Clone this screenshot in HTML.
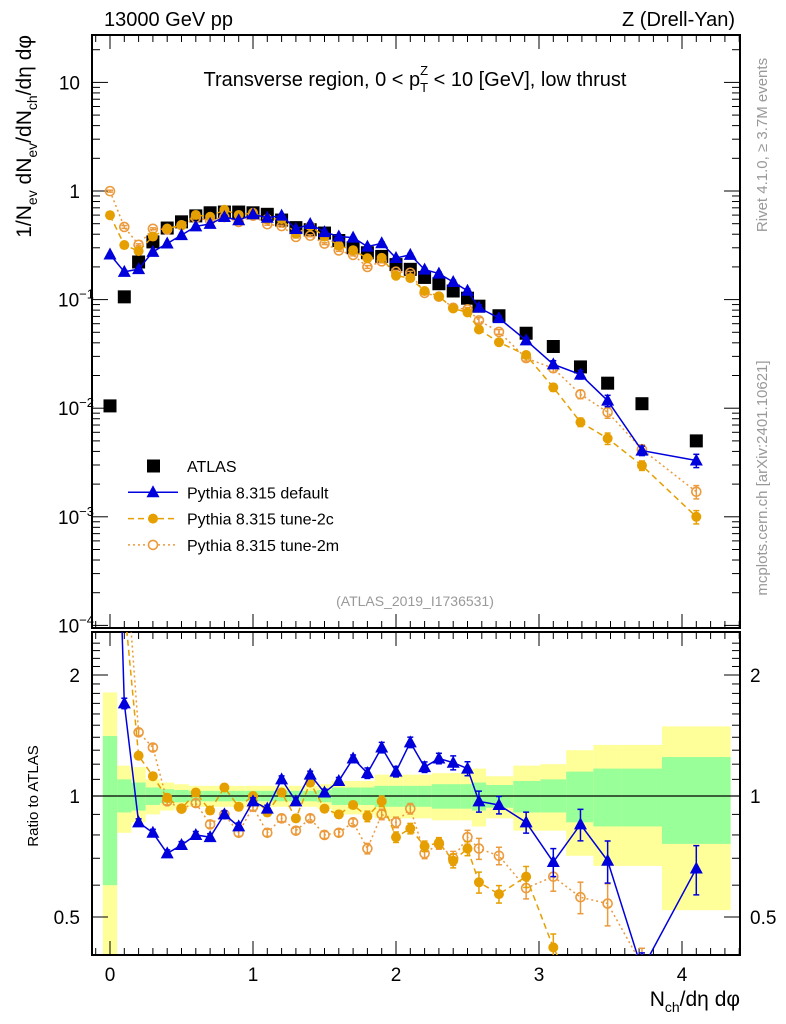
<!DOCTYPE html>
<html><head><meta charset="utf-8"><style>
html,body{margin:0;padding:0;background:#fff;width:786px;height:1024px;overflow:hidden}
svg{display:block;font-family:"Liberation Sans",sans-serif}
</style></head><body>
<svg id="c" width="786" height="1024" xmlns="http://www.w3.org/2000/svg"></svg>
<script>
const xs=[0,0.1,0.2,0.3,0.4,0.5,0.6,0.7,0.8,0.9,1.0,1.1,1.2,1.3,1.4,1.5,1.6,1.7,1.8,1.9,2.0,2.1,2.2,2.3,2.4,2.5,2.58,2.72,2.91,3.10,3.29,3.48,3.72,4.10];
const binLo=[-0.05,0.05,0.15,0.25,0.35,0.45,0.55,0.65,0.75,0.85,0.95,1.05,1.15,1.25,1.35,1.45,1.55,1.65,1.75,1.85,1.95,2.05,2.15,2.25,2.35,2.45,2.53,2.63,2.82,3.01,3.19,3.38,3.58,3.86];
const binHi=[0.05,0.15,0.25,0.35,0.45,0.55,0.65,0.75,0.85,0.95,1.05,1.15,1.25,1.35,1.45,1.55,1.65,1.75,1.85,1.95,2.05,2.15,2.25,2.35,2.45,2.53,2.63,2.82,3.01,3.19,3.38,3.58,3.86,4.34];
const atlas=[0.0105,0.106,0.222,0.34,0.456,0.52,0.59,0.63,0.64,0.64,0.63,0.61,0.54,0.46,0.44,0.41,0.35,0.30,0.27,0.25,0.21,0.19,0.16,0.14,0.12,0.103,0.087,0.071,0.049,0.037,0.024,0.017,0.011,0.005];
const rDefault=[24.8,1.70,0.86,0.81,0.72,0.755,0.80,0.79,0.90,0.84,0.97,0.93,1.10,0.97,1.13,1.02,1.09,1.24,1.14,1.32,1.15,1.36,1.18,1.24,1.21,1.17,0.97,0.95,0.86,0.685,0.85,0.69,0.37,0.66];
const r2c=[57,3.0,1.26,1.12,0.99,0.93,1.02,0.92,1.05,0.94,1.0,0.91,1.02,0.88,1.08,0.93,0.90,0.95,0.89,0.97,0.79,0.83,0.75,0.765,0.69,0.74,0.61,0.57,0.63,0.42,0.31,0.31,0.27,0.2];
const r2m=[95,4.4,1.44,1.32,0.97,0.93,0.96,0.85,0.90,0.81,0.94,0.81,0.88,0.82,0.88,0.80,0.81,0.86,0.74,0.90,0.86,0.93,0.72,0.76,0.70,0.79,0.74,0.71,0.59,0.63,0.56,0.54,0.38,0.34];
const errRel=[0.02,0.03,0.02,0.02,0.02,0.02,0.02,0.02,0.02,0.02,0.02,0.02,0.02,0.02,0.02,0.02,0.02,0.02,0.03,0.03,0.03,0.03,0.03,0.03,0.04,0.04,0.06,0.05,0.06,0.08,0.09,0.12,0.10,0.14];
const yelHi=[1.81,1.19,1.18,1.10,1.08,1.07,1.06,1.06,1.06,1.06,1.06,1.06,1.06,1.06,1.06,1.07,1.09,1.09,1.09,1.13,1.13,1.13,1.13,1.14,1.14,1.14,1.17,1.12,1.19,1.20,1.30,1.34,1.34,1.49];
const yelLo=[0.35,0.81,0.86,0.90,0.92,0.93,0.94,0.94,0.94,0.94,0.94,0.94,0.94,0.94,0.94,0.93,0.90,0.90,0.90,0.88,0.88,0.88,0.88,0.87,0.87,0.87,0.84,0.88,0.82,0.82,0.71,0.67,0.67,0.52];
const grnHi=[1.41,1.10,1.08,1.05,1.04,1.035,1.03,1.03,1.03,1.03,1.03,1.03,1.03,1.03,1.03,1.035,1.05,1.05,1.05,1.06,1.06,1.06,1.06,1.07,1.07,1.07,1.08,1.065,1.09,1.10,1.15,1.17,1.17,1.25];
const grnLo=[0.60,0.91,0.92,0.95,0.96,0.965,0.97,0.97,0.97,0.97,0.97,0.97,0.97,0.97,0.97,0.965,0.95,0.95,0.95,0.94,0.94,0.94,0.94,0.93,0.93,0.93,0.92,0.935,0.91,0.91,0.86,0.84,0.84,0.76];
const xTicks=[0,1,2,3,4];

const NS="http://www.w3.org/2000/svg";
const svg=document.getElementById('c');
function el(t,a,p){const e=document.createElementNS(NS,t);for(const k in a)e.setAttribute(k,a[k]);(p||svg).appendChild(e);return e;}
const L=92,R=740,MT=35,MB=628,RT=632,RB=955;
const X=v=>110+v*143;
const YM=v=>191-Math.log10(v)*108.6;
const YR=v=>796-Math.log2(v)*121;

const defs=el('defs',{});
const c1=el('clipPath',{id:'cm'},defs);el('rect',{x:L,y:MT,width:R-L,height:MB-MT},c1);
const c2=el('clipPath',{id:'cr'},defs);el('rect',{x:L,y:RT,width:R-L,height:RB-RT},c2);

const gb=el('g',{'clip-path':'url(#cr)'});

for(let i=0;i<xs.length;i++){
 const a=X(binLo[i]),w=X(binHi[i])-a;
 const r1=el('rect',{x:a,y:YR(yelHi[i]),width:w,height:YR(yelLo[i])-YR(yelHi[i]),fill:'#ffff99'},gb);
 
 const r2=el('rect',{x:a,y:YR(grnHi[i]),width:w,height:YR(grnLo[i])-YR(grnHi[i]),fill:'#99ff99'},gb);
 
}
el('line',{x1:L,x2:R,y1:YR(1),y2:YR(1),stroke:'#000','stroke-width':1.2});

const f1=el('rect',{x:L,y:MT,width:R-L,height:MB-MT,fill:'none',stroke:'#000','stroke-width':2});

const f2=el('rect',{x:L,y:RT,width:R-L,height:RB-RT,fill:'none',stroke:'#000','stroke-width':2});


for(let v=-0.1;v<=4.45;v+=0.1){
 const vv=Math.round(v*10)/10, maj=Math.abs(vv-Math.round(vv))<1e-6, h=maj?14:7, x=X(vv);
 if(x<L||x>R)continue;
 [[MB,-1],[MT,1],[RB,-1],[RT,1]].forEach(([y,d])=>el('line',{x1:x,x2:x,y1:y,y2:y+d*h,stroke:'#000','stroke-width':1}));
}
xTicks.forEach(v=>{const t=el('text',{x:X(v),y:981,'font-size':19,'text-anchor':'middle'});t.textContent=v;
});
for(let e=-4;e<=1;e++){for(let m=1;m<10;m++){const v=m*Math.pow(10,e),y=YM(v);if(y<MT||y>MB)continue;const h=m==1?16:8;
 el('line',{x1:L,x2:L+h,y1:y,y2:y,stroke:'#000'});el('line',{x1:R,x2:R-h,y1:y,y2:y,stroke:'#000'});}}
const ylab=[[10,'10'],[1,'1'],[0.1,'10<tspan dy="-8" font-size="13">−1</tspan>'],[0.01,'10<tspan dy="-8" font-size="13">−2</tspan>'],[0.001,'10<tspan dy="-8" font-size="13">−3</tspan>'],[0.0001,'10<tspan dy="-8" font-size="13">−4</tspan>']];
ylab.forEach(([v,s])=>{const t=el('text',{x:v>=1?80:58,y:YM(v)+7,'font-size':19,'text-anchor':v>=1?'end':'start'});t.innerHTML=s;
});
for(let v=0.4;v<=2.5;v+=0.1){const vv=Math.round(v*10)/10,y=YR(vv);if(y<RT||y>RB)continue;const maj=[0.5,1,2].includes(vv),h=maj?16:8;
 el('line',{x1:L,x2:L+h,y1:y,y2:y,stroke:'#000'});el('line',{x1:R,x2:R-h,y1:y,y2:y,stroke:'#000'});}
[[2,'2'],[1,'1'],[0.5,'0.5']].forEach(([v,s])=>{
 const a=el('text',{x:80,y:YR(v)+7,'font-size':19,'text-anchor':'end'});a.textContent=s;
 const b=el('text',{x:750,y:YR(v)+7,'font-size':19});b.textContent=s;});

const OR='#e69f00';
function series(g,vals,Y,style,mk,errs){
 const pts=xs.map((x,i)=>[X(x),Y(vals[i])]);
 el('polyline',{points:pts.map(p=>p.join(',')).join(' '),fill:'none',stroke:style.c,'stroke-width':style.w,'stroke-dasharray':style.d||'none'},g);
 pts.forEach((p,i)=>{
  if(errs){const hi=Y(vals[i]*(1+errs[i])),lo=Y(vals[i]*(1-errs[i]));
   el('line',{x1:p[0],x2:p[0],y1:hi,y2:lo,stroke:style.c,'stroke-width':1.5},g);
   el('line',{x1:p[0]-3,x2:p[0]+3,y1:hi,y2:hi,stroke:style.c,'stroke-width':1.5},g);
   el('line',{x1:p[0]-3,x2:p[0]+3,y1:lo,y2:lo,stroke:style.c,'stroke-width':1.5},g);}
  let m;
  if(mk=='tri')m=el('polygon',{points:`${p[0]},${p[1]-7} ${p[0]-6.5},${p[1]+5} ${p[0]+6.5},${p[1]+5}`,fill:style.c},g);
  else if(mk=='dot')m=el('circle',{cx:p[0],cy:p[1],r:5,fill:style.c},g);
  else m=el('circle',{cx:p[0],cy:p[1],r:4.5,fill:'none',stroke:style.c,'stroke-width':1.6},g);
  
 });
}
const main=el('g',{'clip-path':'url(#cm)'});
const ratio=el('g',{'clip-path':'url(#cr)'});
const mc=r=>atlas.map((a,i)=>a*r[i]);
const ga=el('g',{},main);
xs.forEach((x,i)=>{const r=el('rect',{x:X(x)-6.5,y:YM(atlas[i])-6.5,width:13,height:13,fill:'#000'},ga);
 });
const g2m=el('g',{},main);
series(g2m,mc(r2m),YM,{c:'#eb9a3c',w:1.5,d:'2,3'},'open',errRel);
const g2c=el('g',{},main);
series(g2c,mc(r2c),YM,{c:OR,w:1.5,d:'6,4'},'dot',errRel);
const gd=el('g',{},main);
series(gd,mc(rDefault),YM,{c:'#0000dd',w:1.5},'tri',errRel);
const rg2m=el('g',{},ratio);
series(rg2m,r2m,YR,{c:'#eb9a3c',w:1.5,d:'2,3'},'open',errRel);
const rg2c=el('g',{},ratio);
series(rg2c,r2c,YR,{c:OR,w:1.5,d:'6,4'},'dot',errRel);
const rgd=el('g',{},ratio);
series(rgd,rDefault,YR,{c:'#0000dd',w:1.5},'tri',errRel);

function txt(x,y,s,o){const t=el('text',Object.assign({x,y},o));t.innerHTML=s;return t;}
let t;
t=txt(104,26,'13000 GeV pp',{'font-size':20});
t=txt(735,26,'Z (Drell-Yan)',{'font-size':20,'text-anchor':'end'});
t=txt(415,86,'Transverse region, 0 &lt; p<tspan dy="6" font-size="13">T</tspan><tspan dx="-8" dy="-17" font-size="13">Z</tspan><tspan dy="11"> &lt; 10 [GeV], low thrust</tspan>',{'font-size':20,'text-anchor':'middle'});

t=txt(415,606,'(ATLAS_2019_I1736531)',{'font-size':14,'text-anchor':'middle',fill:'#999'});
t=txt(0,0,'1/N<tspan dy="6" font-size="14">ev</tspan><tspan dy="-6"> dN</tspan><tspan dy="6" font-size="14">ev</tspan><tspan dy="-6">/dN</tspan><tspan dy="6" font-size="14">ch</tspan><tspan dy="-6">/dη dφ</tspan>',{'font-size':21,'text-anchor':'end',transform:'translate(31,35) rotate(-90)'});

t=txt(0,0,'Ratio to ATLAS',{'font-size':15,'text-anchor':'middle',transform:'translate(38,796) rotate(-90)'});
t=txt(740,1006,'N<tspan dy="6" font-size="14">ch</tspan><tspan dy="-6">/dη dφ</tspan>',{'font-size':21,'text-anchor':'end'});
t=txt(0,0,'Rivet 4.1.0, ≥ 3.7M events',{'font-size':15,fill:'#999','text-anchor':'middle',transform:'translate(767,145) rotate(-90)'});
t=txt(0,0,'mcplots.cern.ch [arXiv:2401.10621]',{'font-size':15,fill:'#999','text-anchor':'middle',transform:'translate(767,478) rotate(-90)'});

const lg=el('g',{});
const leg=[['ATLAS',null],['Pythia 8.315 default',{c:'#0000dd',d:'none',m:'tri'}],['Pythia 8.315 tune-2c',{c:OR,d:'6,4',m:'dot'}],['Pythia 8.315 tune-2m',{c:'#eb9a3c',d:'2,3',m:'open'}]];
leg.forEach(([s,st],i)=>{const y=466+i*26.3;const g=el('g',{},lg);
 
 if(!st)el('rect',{x:147,y:y-6.5,width:13,height:13,fill:'#000'},g);
 else{el('line',{x1:128,x2:178,y1:y,y2:y,stroke:st.c,'stroke-width':1.5,'stroke-dasharray':st.d},g);
  if(st.m=='tri')el('polygon',{points:`153,${y-7} 146.5,${y+5} 159.5,${y+5}`,fill:st.c},g);
  else if(st.m=='dot')el('circle',{cx:153,cy:y,r:5,fill:st.c},g);
  else el('circle',{cx:153,cy:y,r:4.5,fill:'#fff',stroke:st.c,'stroke-width':1.6},g);}
 const tt=el('text',{x:187,y:y+6,'font-size':16},g);tt.textContent=s;});
</script>
</body></html>
